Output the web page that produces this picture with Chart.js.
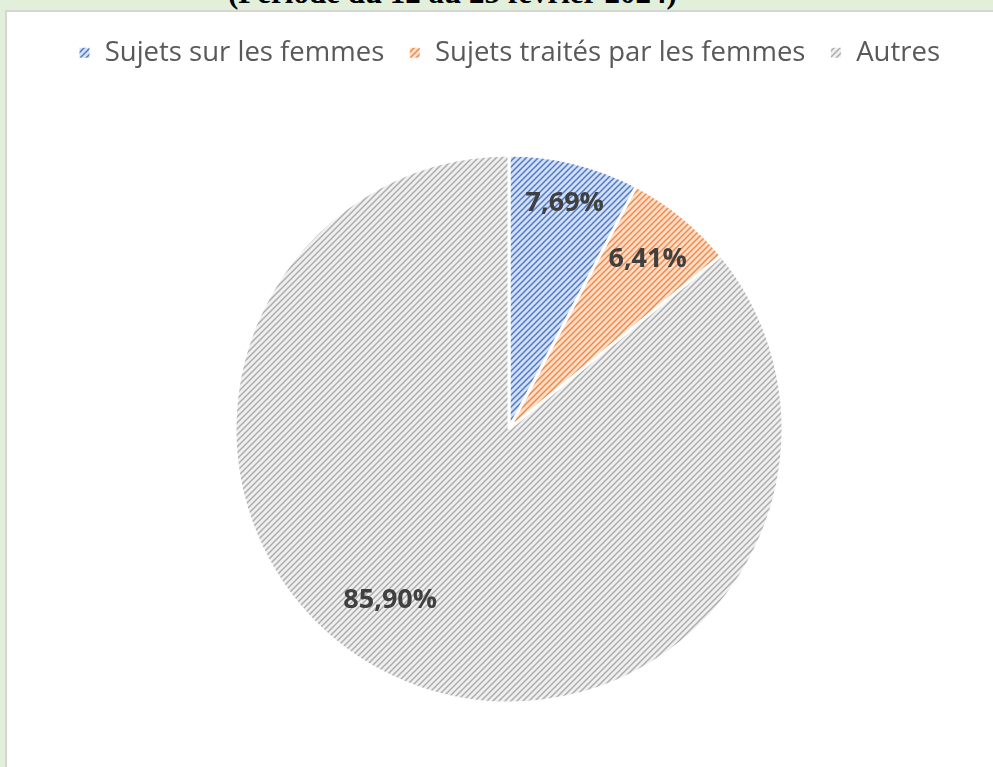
<!DOCTYPE html>
<html lang="fr">
<head>
<meta charset="utf-8">
<title>Répartition des sujets</title>
<script src="https://cdn.jsdelivr.net/npm/chart.js@4.4.1/dist/chart.umd.min.js"></script>
<style>
  html, body { margin: 0; padding: 0; }
  body { width: 993px; height: 767px; background: #e2efda; position: relative; overflow: hidden; }
  #titre {
    position: absolute; left: 228px; top: -23px;
    font: bold 31px "Liberation Serif", "Times New Roman", serif;
    line-height: 31px; color: #000; white-space: nowrap;
  }
  #cadre {
    position: absolute; left: 5px; top: 10px; width: 1000px; height: 800px;
    background: #fff; border-left: 2px solid #d6d6d6; border-top: 2px solid #d6d6d6;
  }
  #zone { position: absolute; left: 0; top: 0; width: 993px; height: 767px; }
</style>
</head>
<body>
<div id="titre">(Période du 12 au 25 février 2024)</div>
<div id="cadre"></div>
<div id="zone"><canvas id="camembert" width="993" height="767"></canvas></div>

<script>
// Données
const categories = ['Sujets sur les femmes', 'Sujets traités par les femmes', 'Autres'];
const valeurs = [7.69, 6.41, 85.90];

const canvas = document.getElementById('camembert');
const ctx = canvas.getContext('2d');

// Hachures diagonales (fond clair + trait plus foncé)
function hachure(fond, trait) {
  const c = document.createElement('canvas');
  c.width = 6; c.height = 6;
  const g = c.getContext('2d');
  g.fillStyle = fond;
  g.fillRect(0, 0, 6, 6);
  g.strokeStyle = trait;
  g.lineWidth = 1.5;
  g.beginPath();
  g.moveTo(-1, 7); g.lineTo(7, -1);
  g.moveTo(-4, 4); g.lineTo(4, -4);
  g.moveTo(2, 10); g.lineTo(10, 2);
  g.stroke();
  return ctx.createPattern(c, 'repeat');
}

const motifs = [
  hachure('#d6e0f4', '#4f7cc9'),
  hachure('#fce0cc', '#ef8a48'),
  hachure('#efefef', '#adadad')
];

// Place des étiquettes : fraction du rayon et décalage d'angle (radians)
const placement = [
  { r: 0.85, da: 0 },
  { r: 0.80, da: 0 },
  { r: 0.76, da: 0.164 }
];

const etiquettes = {
  id: 'etiquettes',
  afterDatasetsDraw(chart) {
    const meta = chart.getDatasetMeta(0);
    const c = chart.ctx;
    c.save();
    c.font = 'bold 27px "Open Sans"';
    c.fillStyle = '#404040';
    c.textAlign = 'center';
    c.textBaseline = 'middle';
    meta.data.forEach((arc, i) => {
      const p = arc.getProps(['x', 'y', 'startAngle', 'endAngle', 'outerRadius'], true);
      const a = (p.startAngle + p.endAngle) / 2 + placement[i].da;
      const r = p.outerRadius * placement[i].r;
      const texte = valeurs[i].toFixed(2).replace('.', ',') + '%';
      c.fillText(texte, p.x + Math.cos(a) * r, p.y + Math.sin(a) * r);
    });
    c.restore();
  }
};

// Hauteur fixe de la légende pour caler le camembert
const hauteurLegende = {
  id: 'hauteurLegende',
  beforeInit(chart) {
    const fitOrig = chart.legend.fit;
    chart.legend.fit = function () {
      fitOrig.bind(chart.legend)();
      this.height = 140;
    };
  }
};

new Chart(ctx, {
  type: 'pie',
  data: {
    labels: categories,
    datasets: [{
      data: valeurs,
      backgroundColor: motifs,
      borderColor: '#ffffff',
      borderWidth: 3,
      radius: 274
    }]
  },
  options: {
    responsive: false,
    animation: false,
    layout: { padding: { top: 15, bottom: 64, left: 25 } },
    plugins: {
      legend: {
        position: 'top',
        labels: {
          boxWidth: 13,
          boxHeight: 13,
          padding: 24,
          color: '#595959',
          font: { family: 'Open Sans', size: 27.5 }
        }
      },
      tooltip: { enabled: false }
    }
  },
  plugins: [etiquettes, hauteurLegende]
});
</script>
</body>
</html>
